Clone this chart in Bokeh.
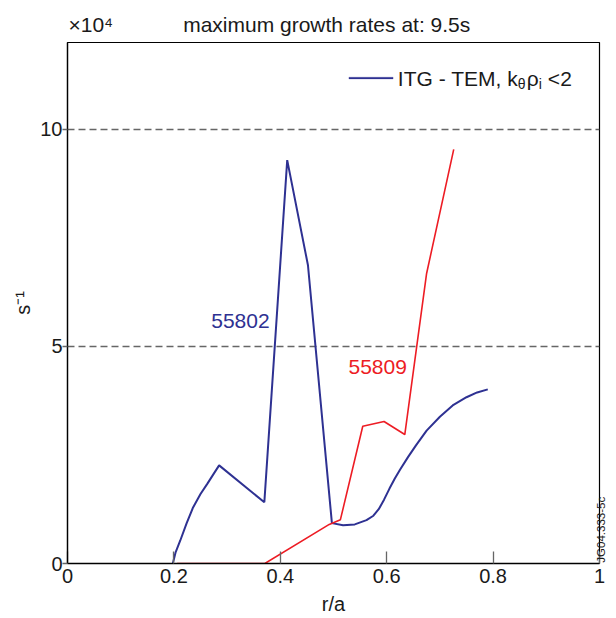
import math
from bokeh.plotting import figure
from bokeh.models import Label, FixedTicker, BoxAnnotation, Range1d, LinearAxis
from bokeh.embed import file_html
from bokeh.resources import INLINE

# ---- data (r/a, growth rate in units of 1e4 s^-1) ----
r_55802 = [0.198, 0.203, 0.212, 0.224, 0.236, 0.250, 0.263, 0.275, 0.285, 0.370,
           0.413, 0.452, 0.497, 0.518, 0.540, 0.562, 0.575, 0.585, 0.595, 0.605,
           0.615, 0.625, 0.640, 0.655, 0.675, 0.700, 0.724, 0.750, 0.770, 0.790]
g_55802 = [0.00, 0.25, 0.53, 0.93, 1.29, 1.60, 1.84, 2.07, 2.26, 1.41,
           9.29, 6.87, 0.93, 0.88, 0.90, 1.00, 1.10, 1.25, 1.47, 1.72,
           1.95, 2.16, 2.45, 2.72, 3.06, 3.38, 3.64, 3.83, 3.94, 4.01]

r_55809 = [0.206, 0.371, 0.492, 0.513, 0.555, 0.595, 0.634, 0.675, 0.726]
g_55809 = [0.00, 0.00, 0.90, 1.01, 3.16, 3.27, 2.97, 6.68, 9.54]

x_ticks = [0, 0.2, 0.4, 0.6, 0.8, 1]
x_tick_labels = ["0", "0.2", "0.4", "0.6", "0.8", "1"]
y_ticks = [0, 5, 10]
grid_levels = [5, 10]
figure_id = "JG04.333-5c"
figure_id_pos = 0.02

BLUE = "#2e3192"
RED = "#ed1c24"
FONT = "Liberation Sans"
TXT = "#1a1a1a"

p = figure(width=616, height=618, output_backend="svg", toolbar_location=None,
           x_range=Range1d(0, 1), y_range=Range1d(0, 12),
           min_border_left=67, min_border_right=16, min_border_top=42, min_border_bottom=55)
p.background_fill_color = "white"
p.border_fill_color = "white"
p.outline_line_color = "black"
p.outline_line_width = 1.2

p.line(r_55802, g_55802, line_color=BLUE, line_width=2)
p.line(r_55809, g_55809, line_color=RED, line_width=1.6)

# title with the exponent marker at the left
p.title.text = "\u00d710\u2074" + "\u00a0" * 12 + "maximum growth rates at: 9.5s"
p.title.align = "left"
p.title.offset = 1
p.title.standoff = 13
p.title.text_font = FONT
p.title.text_font_size = "21px"
p.title.text_font_style = "normal"
p.title.text_color = TXT

# axes
xa = p.xaxis[0]
xa.ticker = FixedTicker(ticks=x_ticks)
xa.major_label_overrides = {t: l for t, l in zip(x_ticks, x_tick_labels)}
xa.major_tick_in = 12
xa.major_tick_out = 0
xa.major_tick_line_color = "#666666"
xa.major_tick_line_width = 1.3
xa.minor_tick_line_color = None
xa.axis_line_color = "black"
xa.axis_line_width = 1.3
xa.major_label_text_font = FONT
xa.major_label_text_font_size = "20px"
xa.major_label_text_color = TXT
xa.major_label_standoff = 5
xa.axis_label = "r/a"
xa.axis_label_text_font = FONT
xa.axis_label_text_font_size = "20px"
xa.axis_label_text_font_style = "normal"
xa.axis_label_text_color = TXT
xa.axis_label_standoff = 7

ya = p.yaxis[0]
ya.ticker = FixedTicker(ticks=y_ticks)
ya.major_tick_in = 0
ya.major_tick_out = 5
ya.major_tick_line_color = "#666666"
ya.major_tick_line_width = 1.3
ya.minor_tick_line_color = None
ya.axis_line_color = "black"
ya.axis_line_width = 1.3
ya.major_label_text_font = FONT
ya.major_label_text_font_size = "20px"
ya.major_label_text_color = TXT
ya.major_label_standoff = 0
ya.axis_label = "s\u207b\u00b9"
ya.axis_label_text_font = FONT
ya.axis_label_text_font_size = "20px"
ya.axis_label_text_font_style = "normal"
ya.axis_label_text_color = TXT
ya.axis_label_standoff = 3

# figure id at the right edge, reading upwards
ra = LinearAxis(ticker=FixedTicker(ticks=[figure_id_pos]))
ra.major_label_overrides = {figure_id_pos: figure_id}
ra.major_label_orientation = math.pi / 2
ra.major_label_text_font = FONT
ra.major_label_text_font_size = "11.5px"
ra.major_label_text_color = TXT
ra.major_label_standoff = 2
ra.major_tick_in = 0
ra.major_tick_out = 0
ra.major_tick_line_color = None
ra.minor_tick_line_color = None
ra.axis_line_color = None
p.add_layout(ra, "right")

p.xgrid.visible = False
p.ygrid.ticker = FixedTicker(ticks=grid_levels)
p.ygrid.grid_line_color = "#666666"
p.ygrid.grid_line_width = 1.3
p.ygrid.grid_line_dash = "7 4"

def lab(x, y, text, size="21px", color=TXT, align="left", baseline="alphabetic",
        xo=0, yo=0):
    p.add_layout(Label(x=x, y=y, text=text, text_font=FONT, text_font_size=size,
                       text_color=color, text_align=align, text_baseline=baseline,
                       x_offset=xo, y_offset=yo))

# curve labels
lab(0.325, 5.58, "55802", color=BLUE, align="center", baseline="middle")
lab(0.583, 4.52, "55809", color=RED, align="center", baseline="middle")

# legend
p.add_layout(BoxAnnotation(left=0.529, right=0.612, bottom=11.16, top=11.20,
                           fill_color=BLUE, fill_alpha=1, line_color=BLUE, line_width=0.8))
lx, ly = 0.621, 11.18
lab(lx, ly, "ITG - TEM, k", baseline="middle")
lab(lx, ly, "\u03b8", size="14px", baseline="middle", xo=120, yo=-6)
lab(lx, ly, "\u03c1", baseline="middle", xo=129)
lab(lx, ly, "i", size="14px", baseline="middle", xo=141, yo=-6)
lab(lx, ly, "<2", baseline="middle", xo=150)

open("out.html", "w").write(file_html(p, INLINE))
